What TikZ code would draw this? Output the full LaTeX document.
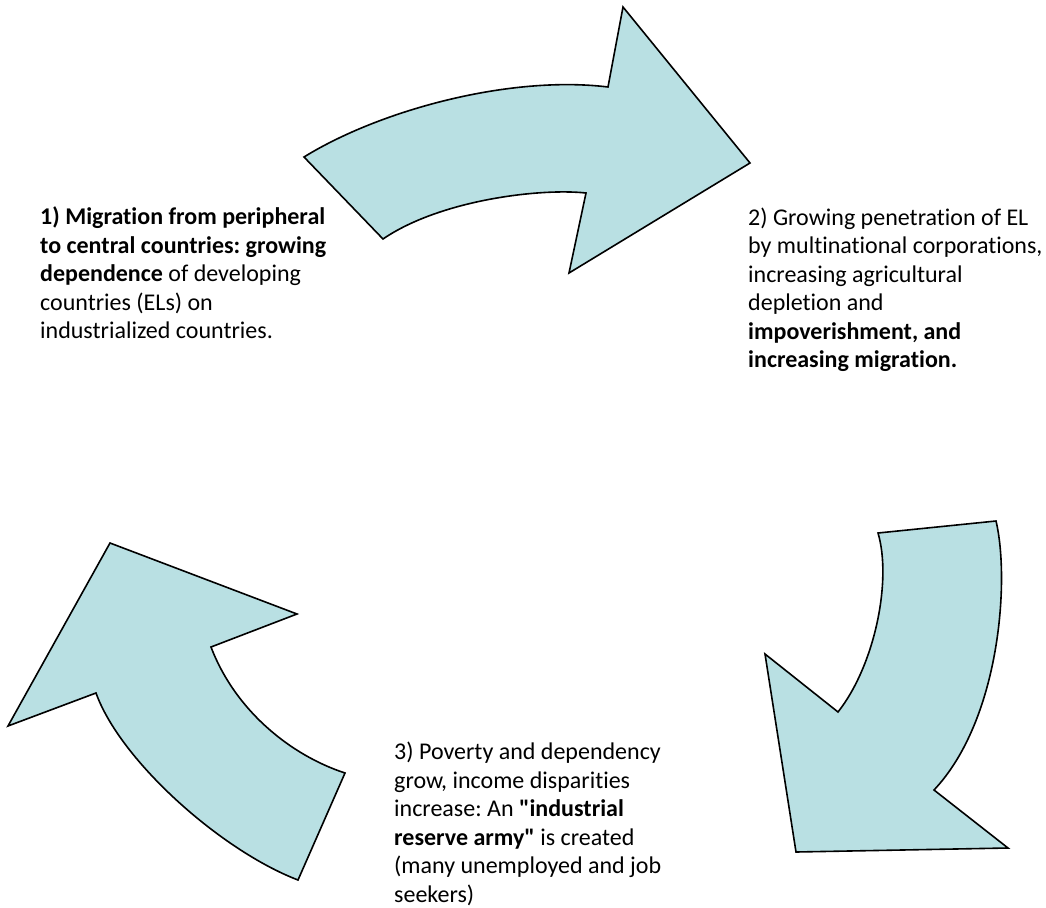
\documentclass[tikz,border=0pt]{standalone}
\usepackage{fontspec}
\setmainfont{Carlito}[Ligatures=CommonOff]
\definecolor{arrowfill}{RGB}{185,224,227}
\newcommand{\dq}{\XeTeXglyph\XeTeXcharglyph"22\relax}
\frenchspacing

\begin{document}
\begin{tikzpicture}[
  x=1pt, y=-1pt,
  every node/.style={font=\fontsize{24}{28.5}\selectfont, align=left},
  txt/.style={anchor=north west, inner sep=0pt},
  bentarrow/.style={draw, fill=arrowfill, line width=1.6pt, line join=miter}
]
\useasboundingbox (0,0) rectangle (1046,907);

% Arrows
\draw[bentarrow] (304,157) .. controls (380,110) and (510,75) .. (608,87)
  -- (623,7) -- (750,163) -- (569,273) -- (586,193)
  .. controls (540,188) and (440,200) .. (383,239) -- cycle;
\draw[bentarrow] (878,533) -- (996,521)
  .. controls (1010,580) and (1000,720) .. (934,790)
  -- (1008,848) -- (796,852) -- (765,654) -- (838,712)
  .. controls (875,665) and (892,580) .. cycle;
\draw[bentarrow] (110,543) -- (297,614) -- (211,647)
  .. controls (235,710) and (290,755) .. (345,773) -- (298,880)
  .. controls (220,850) and (120,760) .. (96,693) -- (8,726) -- cycle;

% Nodes
\node[txt] (migration) at (40,206.5) {\textbf{1) Migration from peripheral}\\
  \textbf{to central countries: growing}\\
  \textbf{dependence} of developing\\
  countries (ELs) on\\
  industrialized countries.};
\node[txt] (penetration) at (748,207.5) {2) Growing penetration of EL\\
  by multinational corporations,\\
  increasing agricultural\\
  depletion and\\
  \textbf{impoverishment, and}\\
  \textbf{increasing migration.}};
\node[txt] (poverty) at (394,742) {3) Poverty and dependency\\
  grow, income disparities\\
  increase: An \textbf{\dq industrial}\\
  \textbf{reserve army\dq} is created\\
  (many unemployed and job\\
  seekers)};
\end{tikzpicture}
\end{document}
